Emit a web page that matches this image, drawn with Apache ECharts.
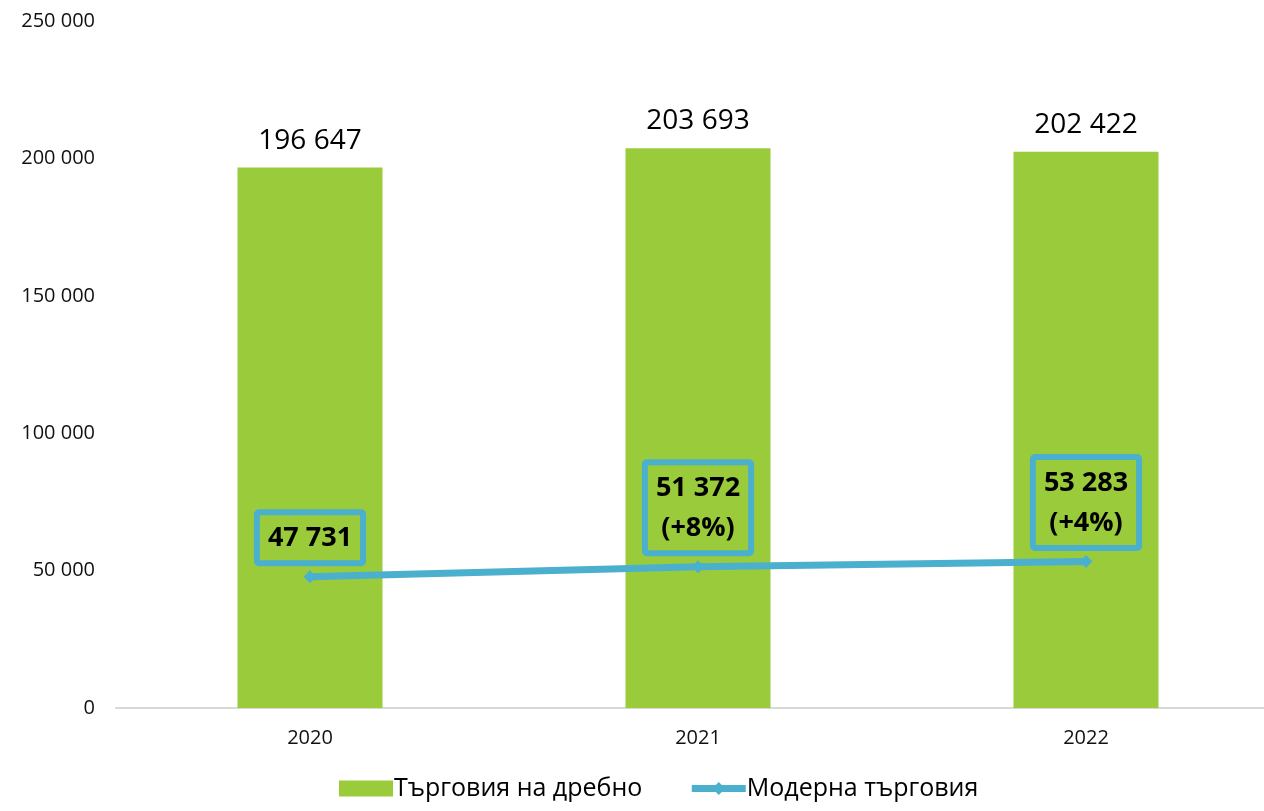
<!DOCTYPE html>
<html>
<head>
<meta charset="utf-8">
<script src="https://cdn.jsdelivr.net/npm/echarts@6/dist/echarts.min.js"></script>
<style>
  html, body { margin: 0; padding: 0; background: #fff; overflow: hidden; }
  #chart { width: 1280px; height: 811px; }
</style>
</head>
<body>
<div id="chart"></div>
<script>
var years = ['2020', '2021', '2022'];
var retail = [196647, 203693, 202422];
var modern = [47731, 51372, 53283];
var growth = ['', '+8%', '+4%'];
var yTicks = [0, 50000, 100000, 150000, 200000, 250000];

var FONT = '"Open Sans", "Noto Sans", sans-serif';

function fmt(v) {
    return String(v).replace(/\B(?=(\d{3})+(?!\d))/g, ' ');
}

// the plot runs a little past the right edge of the window, as in the source
var chart = echarts.init(document.getElementById('chart'));
var option = {
    backgroundColor: '#fff',
    textStyle: { fontFamily: FONT },
    grid: { left: 116, right: 0, top: 21, bottom: 103, containLabel: false },
    legend: {
        top: 771,
        left: 334,
        itemWidth: 54,
        itemHeight: 16,
        itemGap: 46,
        lineStyle: { width: 7 },
        textStyle: { fontFamily: FONT, fontSize: 25, color: '#000', padding: [0, 0, 0, -4] },
        data: [
            { name: 'Търговия на дребно', icon: 'rect' },
            { name: 'Модерна търговия' }
        ]
    },
    xAxis: {
        type: 'category',
        data: years,
        axisLine: { show: true, lineStyle: { color: '#d9d9d9', width: 2 } },
        axisTick: { show: false },
        axisLabel: { fontFamily: FONT, fontSize: 20, color: '#111', margin: 20 }
    },
    yAxis: {
        type: 'value',
        min: yTicks[0],
        max: yTicks[yTicks.length - 1],
        interval: 50000,
        splitLine: { show: false },
        axisLine: { show: false },
        axisTick: { show: false },
        axisLabel: {
            fontFamily: FONT, fontSize: 20, color: '#111', margin: 21,
            formatter: function (v) { return fmt(v); }
        }
    },
    series: [
        {
            name: 'Търговия на дребно',
            type: 'bar',
            data: retail,
            barWidth: 145,
            itemStyle: { color: '#9acb3a' },
            label: {
                show: true,
                position: 'top',
                distance: 13,
                fontFamily: FONT,
                fontSize: 28,
                color: '#000',
                formatter: function (p) { return fmt(p.value); }
            }
        },
        {
            name: 'Модерна търговия',
            type: 'line',
            data: modern,
            symbol: 'diamond',
            symbolSize: 13,
            lineStyle: { color: '#4bb0cd', width: 7 },
            itemStyle: { color: '#4bb0cd' },
            label: {
                show: true,
                position: 'top',
                distance: 7,
                fontFamily: FONT,
                fontSize: 27,
                fontWeight: 'bold',
                lineHeight: 40,
                color: '#000',
                borderColor: '#4bb0cd',
                borderWidth: 6,
                borderRadius: 2,
                padding: [6, 11, 5, 11],
                formatter: function (p) {
                    var g = growth[p.dataIndex];
                    return g ? fmt(p.value) + '\n(' + g + ')' : fmt(p.value);
                }
            },
            z: 3
        }
    ]
};
chart.setOption(option);
</script>
</body>
</html>
